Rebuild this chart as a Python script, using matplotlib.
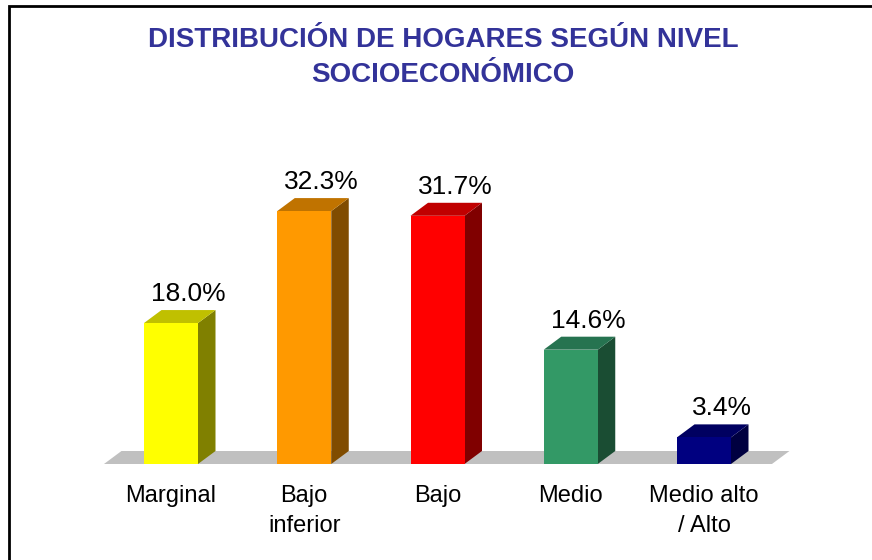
import matplotlib
matplotlib.use("Agg")
from matplotlib import pyplot as plt
from matplotlib.patches import Polygon, Rectangle
import numpy as np

# data
categories = ["Marginal", "Bajo\ninferior", "Bajo", "Medio", "Medio alto\n/ Alto"]
values = [18.0, 32.3, 31.7, 14.6, 3.4]
labels = ["18.0%", "32.3%", "31.7%", "14.6%", "3.4%"]
title_lines = ["DISTRIBUCIÓN DE HOGARES SEGÚN NIVEL", "SOCIOECONÓMICO"]

# colours of each bar: front, side, top
front_cols = ["#FFFF00", "#FF9900", "#FF0000", "#339966", "#000080"]
side_cols = ["#808000", "#804C00", "#800000", "#1A4D33", "#000040"]
top_cols = ["#C0C000", "#C07300", "#C00000", "#267350", "#000060"]

plt.rcParams['font.family'] = ['Liberation Sans', 'DejaVu Sans']

W, H = 872, 560
fig = plt.figure(figsize=(W / 100, H / 100), dpi=100)
ax = fig.add_axes([0, 0, 1, 1])

# pixel mapping: bar i front centre at 171 + 133.25*i, zero line at 464 from top
px_step = 133.25
py_unit = 7.83
x0_px, y0_px = 171, 464
ax.set_xlim(-x0_px / px_step, (W - x0_px) / px_step)
ax.set_ylim(-(H - y0_px) / py_unit, y0_px / py_unit)
ax.axis("off")

n = len(values)
x = np.arange(n)
bw = 54 / px_step          # bar width
dx = 17.5 / px_step        # depth in x
dy = 13 / py_unit          # depth in y

# floor
fl, fr = -0.503, n - 1 + 0.51
ax.add_patch(Polygon([(fl, 0), (fr, 0), (fr + dx, dy), (fl + dx, dy)],
                     closed=True, fc="#C0C0C0", ec="none", zorder=1))

for i, v in enumerate(values):
    l, r = x[i] - bw / 2, x[i] + bw / 2
    ax.bar(x[i], v, width=bw, color=front_cols[i], edgecolor="none", zorder=3)
    ax.add_patch(Polygon([(r, 0), (r + dx, dy), (r + dx, v + dy), (r, v)],
                         closed=True, fc=side_cols[i], ec="none", zorder=2))
    ax.add_patch(Polygon([(l, v), (r, v), (r + dx, v + dy), (l + dx, v + dy)],
                         closed=True, fc=top_cols[i], ec="none", zorder=2))
    ax.annotate(labels[i], (x[i] + dx, v + dy), xytext=(0, 9),
                textcoords="offset pixels", ha="center", va="baseline",
                fontsize=19, color="black")
    ax.annotate(categories[i], (x[i], 0), xytext=(0, -21),
                textcoords="offset pixels", ha="center", va="top",
                fontsize=17, color="black", linespacing=1.45)

# title
fig.text(443 / W, 1 - 47 / H, title_lines[0], ha="center", va="baseline",
         fontsize=20, fontweight="bold", color="#333399")
fig.text(443 / W, 1 - 82 / H, title_lines[1], ha="center", va="baseline",
         fontsize=20, fontweight="bold", color="#333399")

# frame around the chart area
fig.add_artist(Rectangle((8.5 / W, -0.1), 1.2, (H - 6) / H + 0.1,
                         transform=fig.transFigure, fill=False,
                         lw=2, ec="black"))

fig.savefig("out.png", dpi=100)
